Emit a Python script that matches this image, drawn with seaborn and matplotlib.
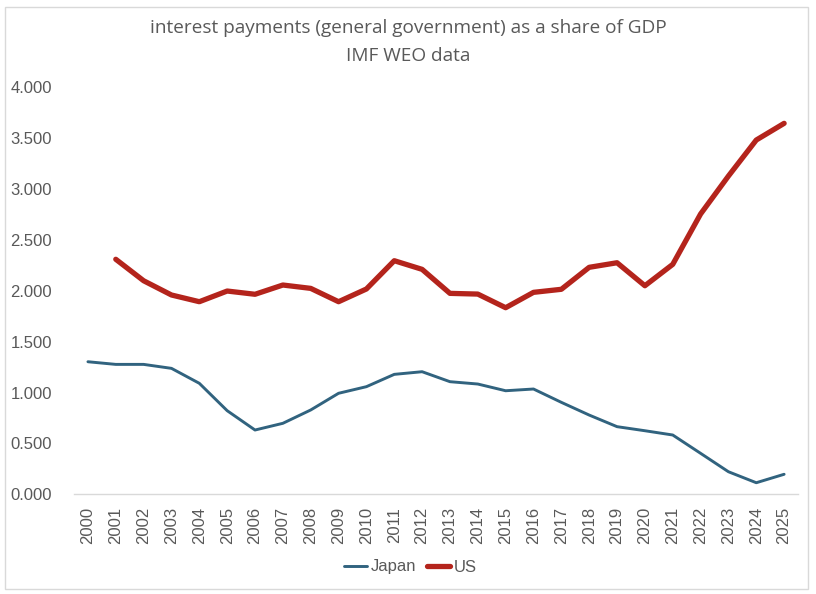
import matplotlib
matplotlib.use("Agg")
import matplotlib.pyplot as plt
import numpy as np
import pandas as pd
import seaborn as sns
from matplotlib.patches import Rectangle
from matplotlib.ticker import FormatStrFormatter

# values (% of GDP)
years = list(range(2000, 2026))
japan = [1.303, 1.277, 1.277, 1.238, 1.091, 0.822, 0.632, 0.698, 0.829, 0.993,
         1.058, 1.179, 1.205, 1.107, 1.084, 1.018, 1.035, 0.904, 0.779, 0.665,
         0.625, 0.583, 0.403, 0.222, 0.114, 0.197]
us = [np.nan, 2.310, 2.099, 1.959, 1.893, 1.998, 1.966, 2.057, 2.024, 1.893,
      2.018, 2.296, 2.211, 1.975, 1.968, 1.834, 1.985, 2.015, 2.231, 2.276,
      2.050, 2.260, 2.755, 3.128, 3.482, 3.646]
title_lines = ["interest payments (general government) as a share of GDP", "IMF WEO data"]

df = pd.DataFrame({"year": years, "Japan": japan, "US": us})

sns.set_theme(style="white")
plt.rcParams["font.family"] = ["Liberation Sans", "DejaVu Sans"]

grey = "#595959"
fig = plt.figure(figsize=(8.16, 5.94), dpi=100)
ax = fig.add_axes([0.0907, 0.1678, 0.8873, 0.6852])

sns.lineplot(data=df, x="year", y="Japan", ax=ax, color="#31637f", linewidth=2.1, label="Japan")
sns.lineplot(data=df, x="year", y="US", ax=ax, color="#b4241c", linewidth=3.8, label="US")
for ln in ax.lines:
    ln.set_solid_capstyle("round")
    ln.set_solid_joinstyle("round")
    ln.set_clip_on(False)

ax.set_xlim(1999.5, 2025.5)
ax.set_ylim(0, 4)
ax.set_xticks(years)
ax.set_xticklabels([str(y) for y in years], rotation=90)
ax.set_yticks(np.arange(0, 4.01, 0.5))
ax.yaxis.set_major_formatter(FormatStrFormatter("%.3f"))
ax.tick_params(axis="x", length=0, pad=9, labelsize=12, labelcolor=grey)
ax.tick_params(axis="y", length=0, pad=16, labelsize=12, labelcolor=grey)
ax.set_xlabel("")
ax.set_ylabel("")
for side in ["top", "left", "right"]:
    ax.spines[side].set_visible(False)
ax.spines["bottom"].set_color("#d9d9d9")
ax.spines["bottom"].set_linewidth(1.0)

ax.get_legend().remove()
handles, labels = ax.get_legend_handles_labels()
fig.legend(handles, labels, loc="center", bbox_to_anchor=(0.503, 1 - 567 / 594), ncol=2,
           frameon=False, handlelength=1.4, handletextpad=0.25,
           columnspacing=0.6, labelcolor=grey,
           prop={"family": ["Liberation Sans"], "size": 12})

fig.text(0.5, 1 - 28 / 594, title_lines[0], ha="center", va="center",
         fontsize=13.7, color=grey, family=["Open Sans", "DejaVu Sans"])
fig.text(0.5, 1 - 56 / 594, title_lines[1], ha="center", va="center",
         fontsize=13.7, color=grey, family=["Open Sans", "DejaVu Sans"])

fig.patches.append(Rectangle((5 / 816, 1 - 589 / 594), 803 / 816, 582 / 594,
                             transform=fig.transFigure, fill=False,
                             edgecolor="#d9d9d9", linewidth=1.0))

fig.savefig("out.png", dpi=100, facecolor="white")
